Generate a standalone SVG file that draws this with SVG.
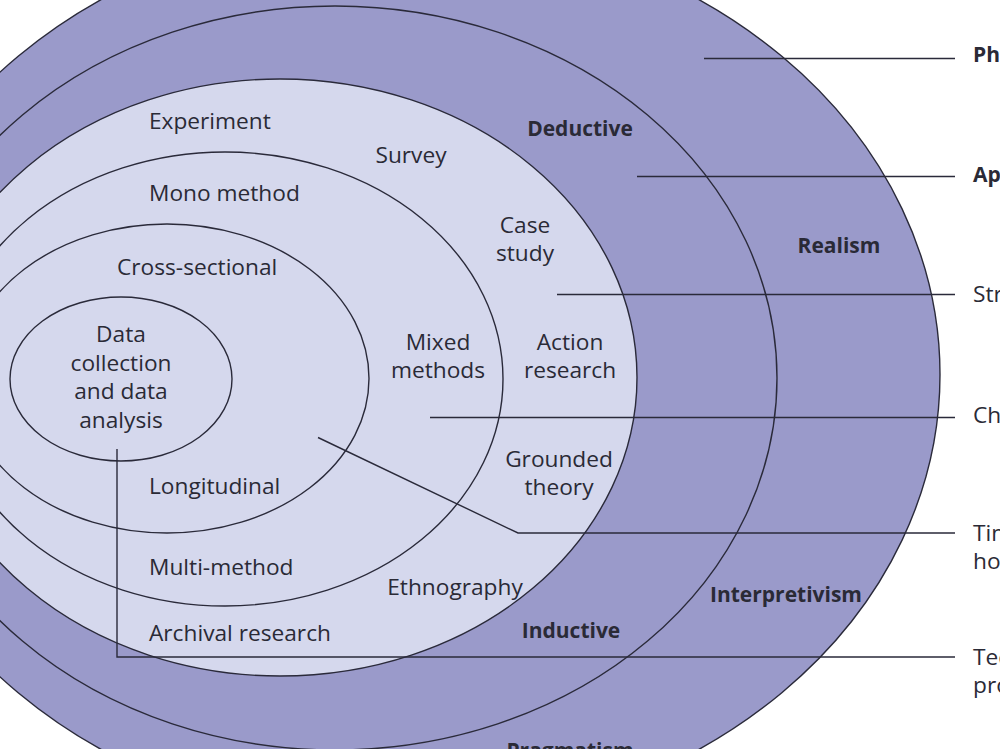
<svg xmlns="http://www.w3.org/2000/svg" width="1000" height="749" viewBox="0 0 1000 749">
<style>
.ring{stroke:#2a2a3a;stroke-width:1.4}
.dark{fill:#9a9aca}
.light{fill:#d5d8ed}
.none{fill:none}
.t{font-family:"Open Sans","Noto Sans","Liberation Sans",sans-serif;font-size:22.7px;fill:#2a2a36}
.b{font-weight:bold;font-size:21px}
.c{stroke:#2a2a3a;stroke-width:1.4;fill:none}
</style>
<rect width="1000" height="749" fill="#ffffff"/>
<g id="philosophies"><ellipse class="ring dark" cx="400" cy="374.5" rx="540" ry="450"/></g>
<g id="approaches"><ellipse class="ring dark" cx="335" cy="378" rx="442" ry="372"/></g>
<g id="strategies"><ellipse class="ring light" cx="280" cy="377.5" rx="357" ry="298.5"/></g>
<g id="choices"><ellipse class="ring none" cx="225" cy="379" rx="278" ry="227"/></g>
<g id="time-horizons"><ellipse class="ring none" cx="167" cy="378.5" rx="202" ry="154.5"/></g>
<g id="techniques"><ellipse class="ring none" cx="121" cy="379" rx="111" ry="82"/></g>
<g id="connectors">
<path class="c" d="M704 58.5H955"/>
<path class="c" d="M637 176.5H955"/>
<path class="c" d="M557 294.5H955"/>
<path class="c" d="M430 417.5H955"/>
<path class="c" d="M318 437.5L518 533H955"/>
<path class="c" d="M117 449V657H955"/>
</g>
<g id="labels-philosophy" class="t b">
<text x="839" y="253" text-anchor="middle">Realism</text>
<text x="786" y="602" text-anchor="middle">Interpretivism</text>
<text x="570" y="758" text-anchor="middle">Pragmatism</text>
</g>
<g id="labels-approach" class="t b">
<text x="580" y="136" text-anchor="middle">Deductive</text>
<text x="571" y="638" text-anchor="middle">Inductive</text>
</g>
<g id="labels-strategy" class="t">
<text x="149" y="129">Experiment</text>
<text x="411" y="163" text-anchor="middle">Survey</text>
<text x="525" y="233" text-anchor="middle">Case</text>
<text x="525" y="261" text-anchor="middle">study</text>
<text x="570" y="350" text-anchor="middle">Action</text>
<text x="570" y="378" text-anchor="middle">research</text>
<text x="559" y="467" text-anchor="middle">Grounded</text>
<text x="559" y="495" text-anchor="middle">theory</text>
<text x="455" y="595" text-anchor="middle">Ethnography</text>
<text x="149" y="641">Archival research</text>
</g>
<g id="labels-choice" class="t">
<text x="149" y="201">Mono method</text>
<text x="438" y="350" text-anchor="middle">Mixed</text>
<text x="438" y="378" text-anchor="middle">methods</text>
<text x="149" y="575">Multi-method</text>
</g>
<g id="labels-time" class="t">
<text x="117" y="275">Cross-sectional</text>
<text x="149" y="494">Longitudinal</text>
</g>
<g id="labels-technique" class="t">
<text x="121" y="342" text-anchor="middle">Data</text>
<text x="121" y="371" text-anchor="middle">collection</text>
<text x="121" y="399" text-anchor="middle">and data</text>
<text x="121" y="428" text-anchor="middle">analysis</text>
</g>
<g id="layer-names" class="t">
<text x="973" y="62" class="t b">Ph</text>
<text x="973" y="182" class="t b">Ap</text>
<text x="973" y="302">Str</text>
<text x="973" y="423">Ch</text>
<text x="973" y="541">Tim</text>
<text x="973" y="569">ho</text>
<text x="973" y="665">Tec</text>
<text x="973" y="693">pro</text>
</g>
</svg>
